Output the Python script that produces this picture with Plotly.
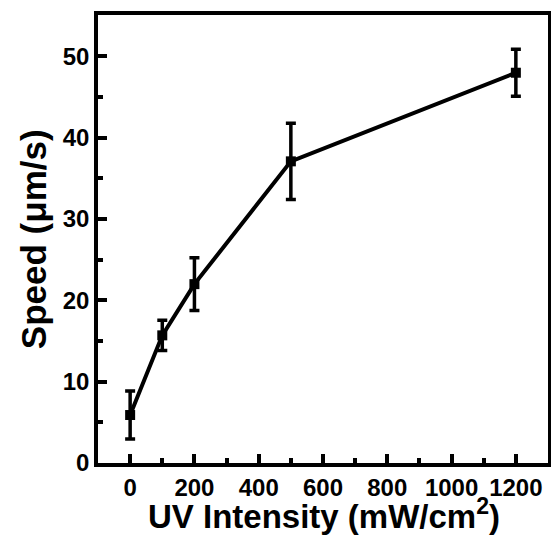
import plotly.graph_objects as go

uv_intensity = [0, 100, 200, 500, 1200]
speed = [5.9, 15.7, 22.0, 37.1, 48.0]
speed_err = [2.95, 1.85, 3.25, 4.7, 2.9]

x_ticks = [0, 200, 400, 600, 800, 1000, 1200]
y_ticks = [0, 10, 20, 30, 40, 50]

x_title = "UV Intensity (mW/cm<sup>2</sup>)"
y_title = "Speed (μm/s)"

fig = go.Figure()
fig.add_trace(go.Scatter(
    x=uv_intensity, y=speed,
    mode="lines+markers",
    line=dict(color="black", width=4),
    marker=dict(symbol="square", size=10, color="black"),
    error_y=dict(type="data", array=speed_err, visible=True,
                 color="black", thickness=3.5, width=5),
    showlegend=False,
))

font_family = "Liberation Sans, Arial, sans-serif"
fig.update_layout(
    width=551, height=540,
    margin=dict(l=98, r=3, t=15, b=77),
    paper_bgcolor="white", plot_bgcolor="white",
    font=dict(family=font_family, color="black"),
    annotations=[
        dict(text=x_title, xref="paper", yref="paper", x=0.503, y=-0.114,
             xanchor="center", yanchor="middle", showarrow=False,
             font=dict(size=33, family=font_family, weight="bold", color="black")),
        dict(text=y_title, xref="paper", yref="paper", x=-0.144, y=0.5,
             xanchor="center", yanchor="middle", showarrow=False, textangle=-90,
             font=dict(size=35, family=font_family, weight="bold", color="black")),
    ],
)
fig.update_xaxes(
    range=[-100, 1300],
    tickvals=x_ticks,
    ticks="inside", ticklen=9, tickwidth=3.5, tickcolor="black",
    minor=dict(ticks="inside", ticklen=5, tickwidth=3.5, tickcolor="black", dtick=100),
    showline=True, linewidth=3.5, linecolor="black", mirror=True,
    showgrid=False, zeroline=False, automargin=False,
    tickfont=dict(size=24, family=font_family, weight="bold"),
)
fig.update_yaxes(
    range=[0, 55.1],
    tickvals=y_ticks,
    ticks="inside", ticklen=9, tickwidth=3.5, tickcolor="black",
    minor=dict(ticks="inside", ticklen=5, tickwidth=3.5, tickcolor="black", dtick=5),
    showline=True, linewidth=3.5, linecolor="black", mirror=True,
    showgrid=False, zeroline=False, automargin=False,
    tickfont=dict(size=24, family=font_family, weight="bold"),
)

fig.write_html("out.html", config={"displayModeBar": False},
               post_script="document.body.style.margin='0';")
